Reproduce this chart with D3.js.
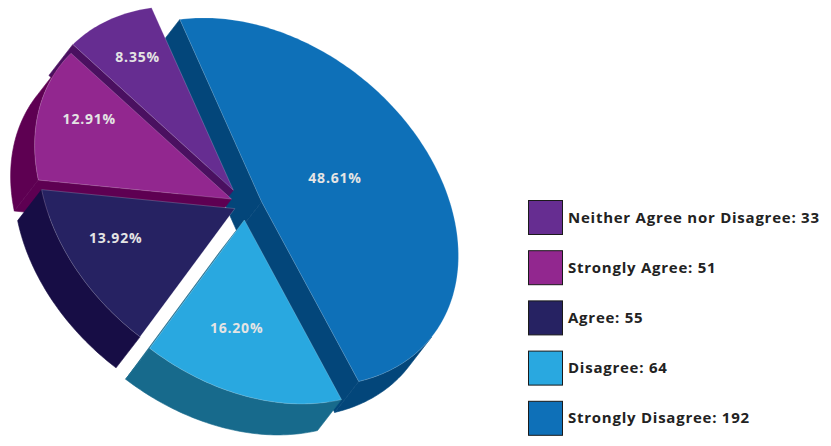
<!DOCTYPE html>
<html>
<head>
<meta charset="utf-8">
<script src="https://cdn.jsdelivr.net/npm/d3@7/dist/d3.min.js"></script>
<style>
  html, body { margin: 0; padding: 0; background: #fff; }
  svg { display: block; }
</style>
</head>
<body>
<svg id="chart" width="831" height="446"></svg>
<script>
// survey answers, in the order the chart lays them out
const categories = ['Neither Agree nor Disagree', 'Strongly Agree', 'Agree', 'Disagree', 'Strongly Disagree'];
const counts = [33, 51, 55, 64, 192];

const topColors = ['#662d91', '#92278f', '#262262', '#29a8e0', '#0e70b8'];
const wallColors = ['#4a1060', '#5e0052', '#170d45', '#176a8c', '#03467a'];

// how far each slice is pulled out of the pie (in pie-plane px)
const explode = [19, 14.5, 13, 18.5, 21.5];
// where the % label sits: fraction of radius and small turn (deg)
const labelR = [0.78, 0.76, 0.70, 0.63, 0.45];
const labelTurn = [1, 6, 6, 4, -7];

const width = 831;
const height = 446;
const svg = d3.select('#chart');

// 3d look: tilted disk seen from upper right, thickness falls to lower left
const center = [244.3, 205];
const radius = 218;
const squash = 0.734;
const axisU = [0.78, 0.62];
const axisV = [-0.62, 0.78];
const depth = [-24, 31];

const total = d3.sum(counts);
const toRad = Math.PI / 180;

// d3 pie angle -> angle on the tilted disk
const angle = d3.scaleLinear()
  .domain([0, 2 * Math.PI])
  .range([215.2 * toRad, 215.2 * toRad - 2 * Math.PI]);

function project(px, py, z) {
  return [
    center[0] + px * axisU[0] + py * squash * axisV[0] + z * depth[0],
    center[1] + px * axisU[1] + py * squash * axisV[1] + z * depth[1]
  ];
}

const arcs = d3.pie().sort(null).value(d => d)(counts);

const slices = arcs.map((a, i) => {
  const t1 = angle(a.endAngle);
  const t2 = angle(a.startAngle);
  const mid = (t1 + t2) / 2;
  const off = [explode[i] * Math.cos(mid), explode[i] * Math.sin(mid)];
  const pt = (r, t, z) => project(off[0] + r * Math.cos(t), off[1] + r * Math.sin(t), z);
  const planeY = (r, t) => off[1] + r * Math.sin(t);
  return { i, t1, t2, mid, off, pt, planeY };
});

function rim(s, from, to, z) {
  const n = Math.max(2, Math.ceil(Math.abs(to - from) / toRad));
  return d3.range(n + 1).map(k => s.pt(radius, from + (to - from) * k / n, z));
}

const line = d3.line().curve(d3.curveLinearClosed);

// side walls, far ones first
const walls = [];
slices.forEach(s => {
  // outer wall where it faces us
  const a = Math.max(s.t1, 0);
  const b = Math.min(s.t2, Math.PI);
  if (b > a) {
    const pts = rim(s, a, b, 0).concat(rim(s, b, a, 1));
    walls.push({ s, pts, d: (s.planeY(radius, a) + s.planeY(radius, b) + 2 * s.planeY(radius, (a + b) / 2)) / 4 });
  }
  // cut faces
  [[s.t1, Math.cos(s.t1) < 0], [s.t2, Math.cos(s.t2) > 0]].forEach(([t, show]) => {
    if (!show) return;
    const pts = [s.pt(0, 0, 0), s.pt(radius, t, 0), s.pt(radius, t, 1), s.pt(0, 0, 1)];
    walls.push({ s, pts, d: (s.planeY(0, t) + s.planeY(radius, t)) / 2 });
  });
});
walls.sort((p, q) => p.d - q.d);

const pieGroup = svg.append('g');

pieGroup.selectAll('path.wall')
  .data(walls)
  .join('path')
  .attr('class', 'wall')
  .attr('d', w => line(w.pts))
  .attr('fill', w => wallColors[w.s.i])
  .attr('stroke', w => wallColors[w.s.i])
  .attr('stroke-width', 0.6)
  .attr('stroke-linejoin', 'round');

pieGroup.selectAll('path.top')
  .data(slices)
  .join('path')
  .attr('class', 'top')
  .attr('d', s => line([s.pt(0, 0, 0)].concat(rim(s, s.t1, s.t2, 0))))
  .attr('fill', s => topColors[s.i])
  .attr('stroke', 'rgba(255,255,255,0.28)')
  .attr('stroke-width', 0.7)
  .attr('stroke-linejoin', 'round');

// percentage labels
const fmt = d3.format('.2f');
pieGroup.selectAll('text.pct')
  .data(slices)
  .join('text')
  .attr('class', 'pct')
  .attr('x', s => s.pt(radius * labelR[s.i], s.mid + labelTurn[s.i] * toRad, 0)[0])
  .attr('y', s => s.pt(radius * labelR[s.i], s.mid + labelTurn[s.i] * toRad, 0)[1])
  .attr('dy', '0.36em')
  .attr('text-anchor', 'middle')
  .attr('fill', '#e4e4e4')
  .attr('font-family', '"Open Sans", sans-serif')
  .attr('font-weight', 'bold')
  .attr('font-size', '14px')
  .attr('letter-spacing', '0.8px')
  .text(s => fmt(counts[s.i] / total * 100) + '%');

// legend
const legendY = d3.scaleBand()
  .domain(categories)
  .range([200, 451])
  .paddingInner(0);

const legend = svg.append('g')
  .selectAll('g')
  .data(categories)
  .join('g')
  .attr('transform', d => `translate(528.5,${legendY(d) + 0.5})`);

legend.append('rect')
  .attr('width', 34)
  .attr('height', 34)
  .attr('fill', (d, i) => topColors[i])
  .attr('stroke', '#1a1a1a')
  .attr('stroke-width', 1);

legend.append('text')
  .attr('x', 39.5)
  .attr('y', 22)
  .attr('fill', '#222')
  .attr('font-family', '"Open Sans", sans-serif')
  .attr('font-weight', 'bold')
  .attr('font-size', '15px')
  .attr('letter-spacing', '0.75px')
  .text((d, i) => `${d}: ${counts[i]}`);
</script>
</body>
</html>
